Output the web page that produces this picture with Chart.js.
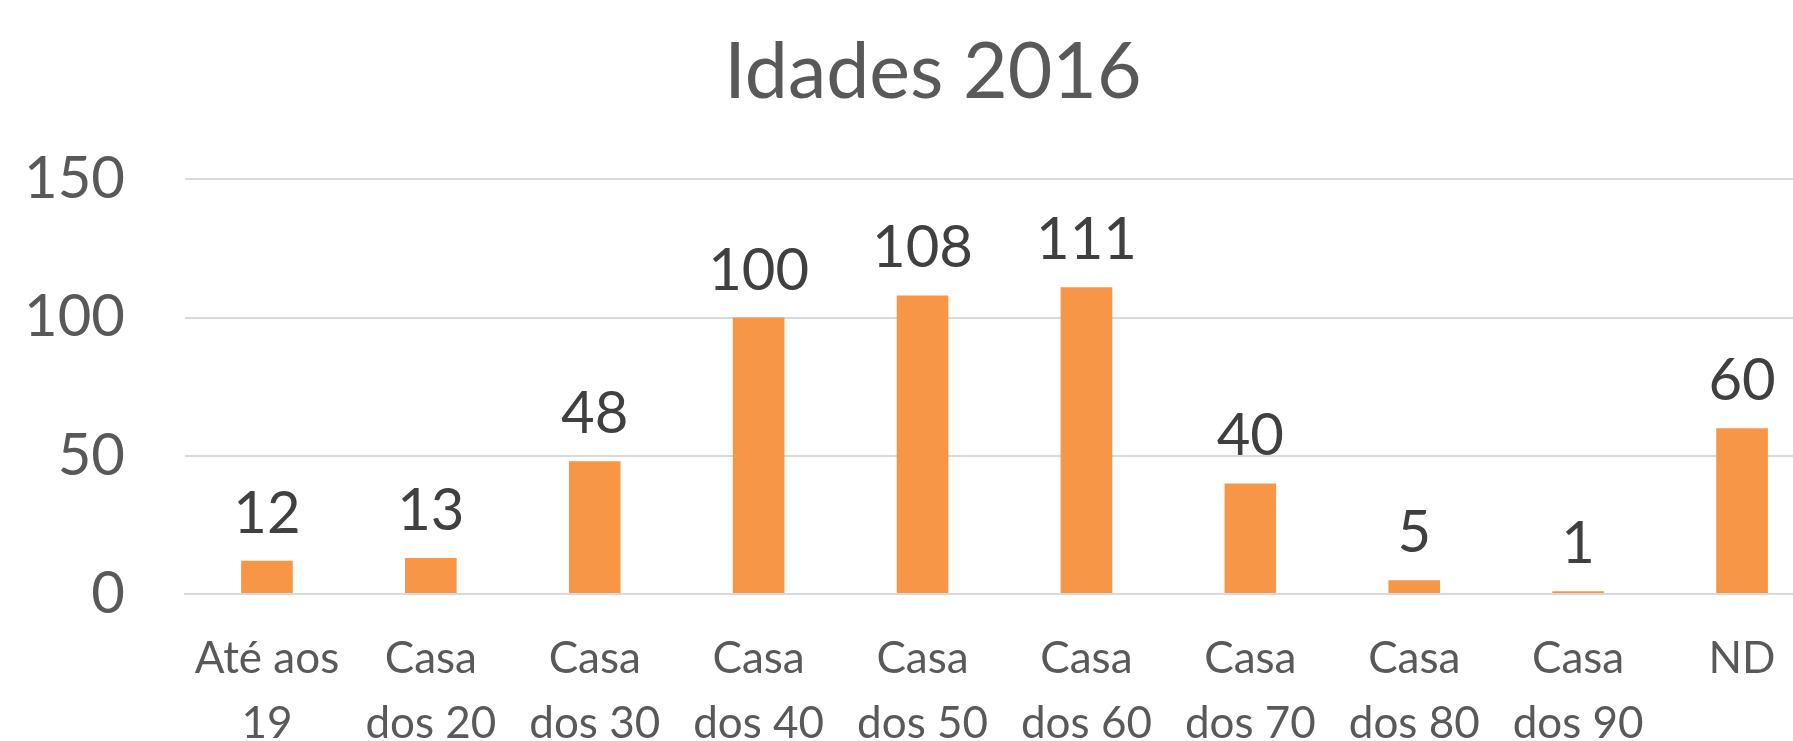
<!DOCTYPE html>
<html>
<head>
<meta charset="utf-8">
<script src="https://cdn.jsdelivr.net/npm/chart.js@4.4.1/dist/chart.umd.min.js"></script>
<style>
  html, body { margin: 0; padding: 0; background: #fff; overflow: hidden; }
  #wrap { width: 1793px; height: 741px; overflow: hidden; }
</style>
</head>
<body>
<div id="wrap"><canvas id="myChart" width="1866" height="741"></canvas></div>
<script>
const categories = [
  ['Até aos', '19'], ['Casa', 'dos 20'], ['Casa', 'dos 30'], ['Casa', 'dos 40'],
  ['Casa', 'dos 50'], ['Casa', 'dos 60'], ['Casa', 'dos 70'], ['Casa', 'dos 80'],
  ['Casa', 'dos 90'], ['ND']
];
const values = [12, 13, 48, 100, 108, 111, 40, 5, 1, 60];
const yTicks = [0, 50, 100, 150];
const chartTitle = 'Idades 2016';

// value labels above each bar
const valueLabels = {
  id: 'valueLabels',
  afterDatasetsDraw(chart) {
    const ctx = chart.ctx;
    const meta = chart.getDatasetMeta(0);
    ctx.save();
    ctx.font = '58px Lato';
    ctx.fillStyle = '#404040';
    ctx.textAlign = 'center';
    ctx.textBaseline = 'alphabetic';
    meta.data.forEach((bar, i) => {
      ctx.fillText(String(values[i]), bar.x, bar.y - 28);
    });
    ctx.restore();
  }
};

const data = {
  labels: categories,
  datasets: [{
    label: chartTitle,
    data: values,
    backgroundColor: '#F79646',
    borderWidth: 0,
    barPercentage: 0.315,
    categoryPercentage: 1
  }]
};

const config = {
  type: 'bar',
  data,
  options: {
    responsive: false,
    animation: false,
    devicePixelRatio: 1,
    layout: { padding: 0 },
    plugins: {
      legend: { display: false },
      tooltip: { enabled: false },
      title: {
        display: true,
        text: chartTitle,
        color: '#595959',
        font: { family: 'Lato', size: 77, weight: 'normal', lineHeight: 1.2 },
        padding: { top: 27, bottom: 60 }
      }
    },
    scales: {
      x: {
        grid: { display: false, drawTicks: false },
        border: { display: true, color: '#d9d9d9', width: 2 },
        ticks: {
          color: '#595959',
          font: { family: 'Lato', size: 44, lineHeight: 1.48 },
          padding: 32,
          maxRotation: 0,
          autoSkip: false
        },
        afterFit(scale) { scale.height = 147; }
      },
      y: {
        min: 0,
        max: 150,
        grid: { color: '#d9d9d9', lineWidth: 2, drawTicks: false },
        border: { display: false },
        ticks: {
          color: '#595959',
          font: { family: 'Lato', size: 58 },
          padding: 60
        },
        afterBuildTicks(scale) { scale.ticks = yTicks.map(v => ({ value: v })); },
        afterFit(scale) { scale.width = 185; }
      },
      // empty right axis: the original chart is cut off at the right edge
      yRight: {
        position: 'right',
        grid: { display: false, drawOnChartArea: false, drawTicks: false },
        border: { display: false },
        ticks: { display: false },
        afterFit(scale) { scale.width = 42; }
      }
    }
  },
  plugins: [valueLabels]
};

var myChart = new Chart(document.getElementById('myChart'), config);
</script>
</body>
</html>
